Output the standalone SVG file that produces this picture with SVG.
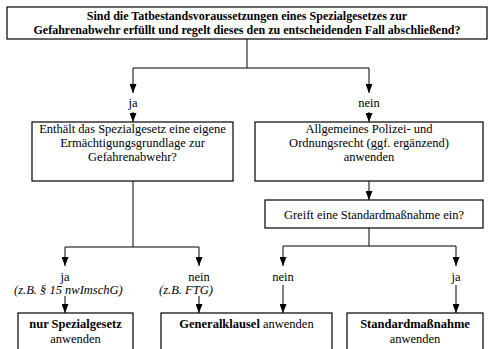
<svg xmlns="http://www.w3.org/2000/svg" width="498" height="349" viewBox="0 0 498 349">
<defs>
<marker id="ah" viewBox="0 0 9 7" refX="9" refY="3.5" markerWidth="9" markerHeight="7" markerUnits="userSpaceOnUse" orient="auto">
<path d="M0,0 L9,3.5 L0,7 Z" fill="#000"/>
</marker>
</defs>
<style>
.box{fill:#fff;stroke:#000;stroke-width:1.2}
.t{font-family:"Liberation Serif","DejaVu Serif","Times New Roman",serif;font-size:12.5px;fill:#000;text-anchor:middle}
.b{font-weight:bold}
.q{font-size:12px}
.i{font-style:italic;text-anchor:start}
.c{fill:none;stroke:#000;stroke-width:1}
.a{fill:none;stroke:#000;stroke-width:1;marker-end:url(#ah)}
</style>
<rect width="498" height="349" fill="#fff"/>
<g id="connectors">
<path class="c" d="M247,39 V68 M133,68 H369"/>
<path class="a" d="M133,68 V93"/>
<path class="a" d="M369,68 V93"/>
<path class="a" d="M133,112 V122"/>
<path class="a" d="M369,112 V122"/>
<path class="a" d="M369,181 V200"/>
<path class="c" d="M133,181 V247 M65,247 H199"/>
<path class="a" d="M65,247 V266"/>
<path class="a" d="M199,247 V266"/>
<path class="a" d="M65,296 V313"/>
<path class="a" d="M199,296 V313"/>
<path class="c" d="M369,228 V246 M283,246 H456"/>
<path class="a" d="M283,246 V266"/>
<path class="a" d="M456,246 V266"/>
<path class="a" d="M283,285 V313"/>
<path class="a" d="M456,285 V313"/>
</g>
<g id="q1">
<rect class="box" x="7" y="7" width="480" height="32"/>
<text class="t b q" x="247" y="19.5">Sind die Tatbestandsvoraussetzungen eines Spezialgesetzes zur</text>
<text class="t b q" x="247" y="34">Gefahrenabwehr erfüllt und regelt dieses den zu entscheidenden Fall abschließend?</text>
</g>
<g id="lbl-ja1"><text class="t" x="133" y="107">ja</text></g>
<g id="lbl-nein1"><text class="t" x="369" y="107">nein</text></g>
<g id="q2">
<rect class="box" x="32" y="122" width="201" height="59"/>
<text class="t" x="132.5" y="133">Enthält das Spezialgesetz eine eigene</text>
<text class="t" x="132.5" y="147">Ermächtigungsgrundlage zur</text>
<text class="t" x="132.5" y="161">Gefahrenabwehr?</text>
</g>
<g id="polr">
<rect class="box" x="255" y="122" width="228" height="59"/>
<text class="t" x="369" y="133">Allgemeines Polizei- und</text>
<text class="t" x="369" y="147">Ordnungsrecht (ggf. ergänzend)</text>
<text class="t" x="369" y="161">anwenden</text>
</g>
<g id="q3">
<rect class="box" x="265" y="200" width="218" height="28"/>
<text class="t" x="374" y="218.5">Greift eine Standardmaßnahme ein?</text>
</g>
<g id="lbl-ja2">
<text class="t" x="65" y="281">ja</text>
<text class="t i" x="14" y="294">(z.B. § 15 nwImschG)</text>
</g>
<g id="lbl-nein2">
<text class="t" x="199" y="281">nein</text>
<text class="t i" x="159" y="294">(z.B. FTG)</text>
</g>
<g id="lbl-nein3"><text class="t" x="283" y="281">nein</text></g>
<g id="lbl-ja3"><text class="t" x="456" y="281">ja</text></g>
<g id="r1">
<rect class="box" x="18" y="313" width="115" height="50"/>
<text class="t b" x="75.5" y="328">nur Spezialgesetz</text>
<text class="t" x="75.5" y="343">anwenden</text>
</g>
<g id="r2">
<rect class="box" x="161" y="313" width="171" height="50"/>
<text class="t" x="246.5" y="328"><tspan class="b">Generalklausel</tspan> anwenden</text>
</g>
<g id="r3">
<rect class="box" x="347" y="313" width="136" height="50"/>
<text class="t b" x="415" y="328">Standardmaßnahme</text>
<text class="t" x="415" y="343">anwenden</text>
</g>
</svg>
